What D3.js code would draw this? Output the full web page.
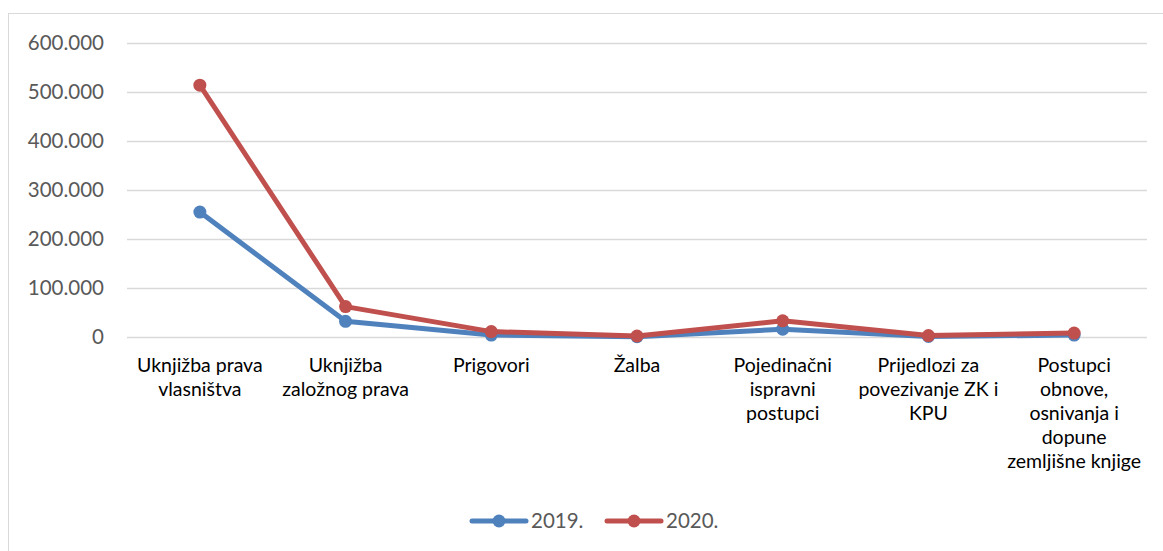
<!DOCTYPE html>
<html lang="hr">
<head>
<meta charset="utf-8">
<title>Line chart</title>
<script src="https://cdn.jsdelivr.net/npm/d3@7"></script>
<style>
  body { margin: 0; background: #fff; }
  svg text { font-family: Lato, "Open Sans", sans-serif; }
</style>
</head>
<body>
<div id="chart"></div>
<script>
// data
var categories = [
  ["Uknjižba prava", "vlasništva"],
  ["Uknjižba", "založnog prava"],
  ["Prigovori"],
  ["Žalba"],
  ["Pojedinačni", "ispravni", "postupci"],
  ["Prijedlozi za", "povezivanje ZK i", "KPU"],
  ["Postupci", "obnove,", "osnivanja i", "dopune", "zemljišne knjige"]
];
var values2019 = [255000, 32000, 4000, 500, 16000, 1000, 4000];
var values2020 = [514000, 62000, 11000, 2000, 33000, 3000, 8000];
var seriesNames = ["2019.", "2020."];
var yTicks = [0, 100000, 200000, 300000, 400000, 500000, 600000];

var W = 1163, H = 551;
var margin = {top: 43, left: 127, right: 16, bottom: 214};
var colors = ["#4f81bd", "#c0504d"];

var svg = d3.select("#chart").append("svg")
    .attr("width", W).attr("height", H);

// outer frame
svg.append("rect")
    .attr("x", 8.5).attr("y", 13.5)
    .attr("width", W + 10).attr("height", H + 10)
    .attr("fill", "none").attr("stroke", "#d9d9d9");

var idx = d3.range(categories.length);
var x = d3.scaleBand().domain(idx).range([margin.left, W - margin.right]);
var y = d3.scaleLinear().domain([0, 600000]).range([H - margin.bottom, margin.top]);

var fmt = function(v) { return v === 0 ? "0" : d3.format(",")(v).replace(/,/g, "."); };

// gridlines + y labels
var yAxis = d3.axisLeft(y).tickValues(yTicks).tickFormat(fmt)
    .tickSize(-(W - margin.right - margin.left)).tickPadding(23);
var gy = svg.append("g").attr("transform", "translate(" + margin.left + ",0)").call(yAxis);
gy.select(".domain").remove();
gy.selectAll(".tick line").attr("stroke", "#d9d9d9").attr("stroke-width", 1.3);
gy.selectAll(".tick text").attr("fill", "#595959").style("font-size", "20.5px");

// category labels
var gx = svg.append("g");
idx.forEach(function(i) {
  var t = gx.append("text")
      .attr("x", x(i) + x.bandwidth() / 2)
      .attr("y", H - margin.bottom + 35)
      .attr("text-anchor", "middle")
      .attr("fill", "#000")
      .style("font-size", "19.5px");
  categories[i].forEach(function(line, k) {
    t.append("tspan").attr("x", x(i) + x.bandwidth() / 2)
      .attr("dy", k === 0 ? 0 : 24).text(line);
  });
});

var line = d3.line()
    .x(function(d, i) { return x(i) + x.bandwidth() / 2; })
    .y(function(d) { return y(d); });

[values2019, values2020].forEach(function(vals, s) {
  svg.append("path").datum(vals)
      .attr("d", line)
      .attr("fill", "none")
      .attr("stroke", colors[s])
      .attr("stroke-width", 5)
      .attr("stroke-linejoin", "round")
      .attr("stroke-linecap", "round");
  svg.selectAll(".pt" + s).data(vals).enter().append("circle")
      .attr("class", "pt" + s)
      .attr("cx", function(d, i) { return x(i) + x.bandwidth() / 2; })
      .attr("cy", function(d) { return y(d); })
      .attr("r", 6.5)
      .attr("fill", colors[s]);
});

// legend
var legX = [472, 607];
seriesNames.forEach(function(name, s) {
  var g = svg.append("g").attr("transform", "translate(" + legX[s] + ",521)");
  g.append("line").attr("x1", 0).attr("x2", 54).attr("y1", 0).attr("y2", 0)
      .attr("stroke", colors[s]).attr("stroke-width", 5).attr("stroke-linecap", "round");
  g.append("circle").attr("cx", 27).attr("cy", 0).attr("r", 6.5).attr("fill", colors[s]);
  g.append("text").attr("x", 59).attr("y", 7).attr("fill", "#595959")
      .style("font-size", "20.5px").text(name);
});
</script>
</body>
</html>
